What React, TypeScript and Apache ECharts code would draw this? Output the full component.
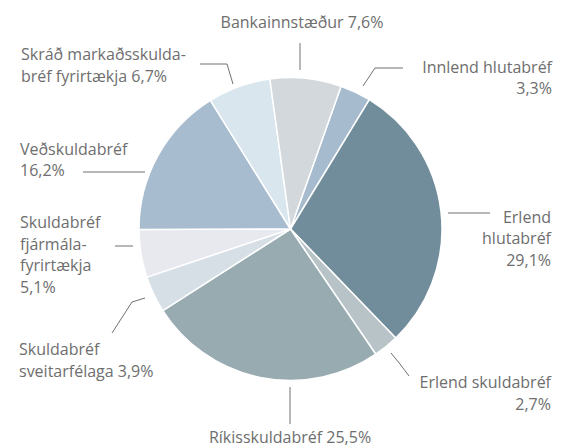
import React, { useEffect, useRef } from "react";
import * as echarts from "echarts";

// Data
const categories = [
  "Innlend hlutabréf",
  "Erlend hlutabréf",
  "Erlend skuldabréf",
  "Ríkisskuldabréf",
  "Skuldabréf sveitarfélaga",
  "Skuldabréf fjármálafyrirtækja",
  "Veðskuldabréf",
  "Skráð markaðsskuldabréf fyrirtækja",
  "Bankainnstæður",
];
const shares = [3.3, 29.1, 2.7, 25.5, 3.9, 5.1, 16.2, 6.7, 7.6];
// label text as printed (name part, including its line breaks and separator before value)
const labelTexts = [
  "Innlend hlutabréf\n",
  "Erlend\nhlutabréf\n",
  "Erlend skuldabréf\n",
  "Ríkisskuldabréf ",
  "Skuldabréf\nsveitarfélaga ",
  "Skuldabréf\nfjármála-\nfyrirtækja\n",
  "Veðskuldabréf\n",
  "Skráð markaðsskulda-\nbréf fyrirtækja ",
  "Bankainnstæður ",
];

// Styles
const sliceColors = [
  "#a6bbce",
  "#718d9b",
  "#b8c3c8",
  "#98abb1",
  "#d6dfe6",
  "#e7e9ee",
  "#a8bccf",
  "#d9e6ee",
  "#d3d8dc",
];
const TEXT = "#6e6e6e";
const FONT = "'Open Sans', 'Liberation Sans', sans-serif";

// label placement (layout only)
const labelPlacement: { x: number; y: number; align: string; lh: number; pts: number[][] }[] = [
  { x: 552, y: 77.5, align: "right", lh: 21.5, pts: [[363, 86], [375, 68], [403, 68]] },
  { x: 551, y: 238, align: "right", lh: 21.5, pts: [[448, 213], [470, 213], [490, 213]] },
  { x: 551, y: 393, align: "right", lh: 21.5, pts: [[391, 353], [400, 364], [409, 376]] },
  { x: 290, y: 436.5, align: "center", lh: 18, pts: [[290, 387], [290, 405], [290, 424]] },
  { x: 19, y: 360, align: "left", lh: 21.5, pts: [[145, 298], [132, 302], [112, 333]] },
  { x: 20, y: 254.5, align: "left", lh: 21.5, pts: [[133, 246], [124, 246], [115, 246]] },
  { x: 20, y: 159.5, align: "left", lh: 21.5, pts: [[145, 172], [110, 172], [83, 172]] },
  { x: 21, y: 65, align: "left", lh: 21.5, pts: [[233, 84], [227, 64], [200, 64]] },
  { x: 302, y: 22, align: "center", lh: 18, pts: [[300, 70], [300, 55], [300, 43]] },
];

const fmt = (v: number) => v.toFixed(1).replace(".", ",") + "%";

export default function App() {
  const ref = useRef<HTMLDivElement>(null);
  useEffect(() => {
    if (!ref.current) return;
    const chart = echarts.init(ref.current, undefined, { renderer: "svg" });
    chart.setOption({
      animation: false,
      backgroundColor: "#ffffff",
      series: [
        {
          type: "pie",
          center: [290.5, 229],
          radius: 151.5,
          startAngle: 70.5,
          clockwise: true,
          silent: true,
          itemStyle: { borderColor: "#ffffff", borderWidth: 1.5 },
          label: {
            show: true,
            position: "outside",
            color: TEXT,
            fontFamily: FONT,
            fontSize: 16,
            lineHeight: 21.5,
            overflow: "none",
            formatter: (p: any) => labelTexts[p.dataIndex] + fmt(p.value),
          },
          labelLine: {
            show: true,
            lineStyle: { color: "#707070", width: 1 },
            smooth: false,
          },
          labelLayout: (p: any) => {
            const L = labelPlacement[p.dataIndex];
            return {
              x: L.x,
              y: L.y,
              align: L.align,
              verticalAlign: "middle",
              labelLinePoints: L.pts,
              hideOverlap: false,
              moveOverlap: false,
            };
          },
          data: categories.map((name, i) => ({
            name,
            value: shares[i],
            itemStyle: { color: sliceColors[i] },
            label: { lineHeight: labelPlacement[i].lh },
          })),
        },
      ],
    });
    return () => chart.dispose();
  }, []);
  return (
    <div
      ref={ref}
      style={{ position: "absolute", left: 0, top: 0, width: 561, height: 446 }}
    />
  );
}
